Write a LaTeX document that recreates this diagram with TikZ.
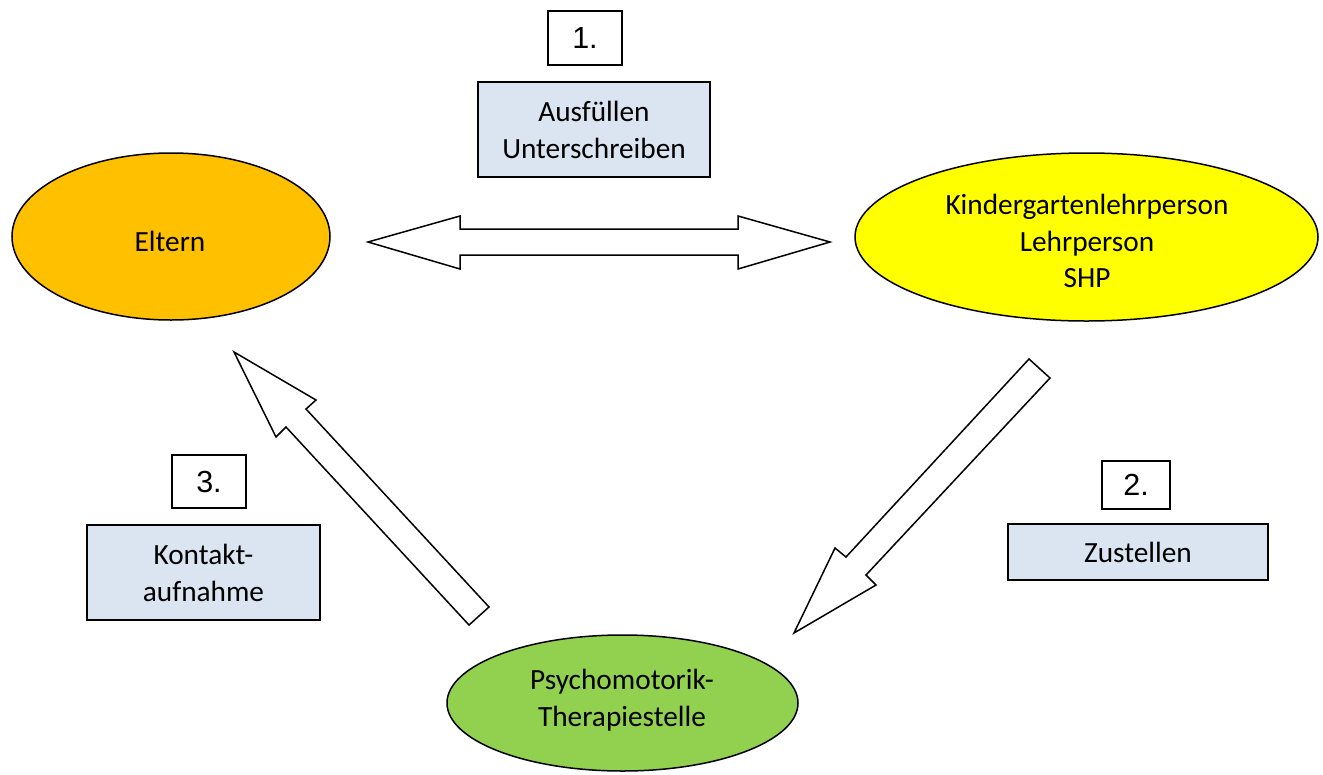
\documentclass[tikz,border=0pt]{standalone}
\usepackage{fontspec}
\setmainfont{Carlito}
\newfontfamily\arialfont{Liberation Sans}
\usetikzlibrary{shapes.geometric}
\definecolor{eltern}{HTML}{FFC000}
\definecolor{kiga}{HTML}{FFFF00}
\definecolor{psy}{HTML}{92D050}
\definecolor{labelbg}{HTML}{DBE5F1}
\tikzset{
  oval/.style={ellipse, draw=black, line width=1.5pt, inner sep=0pt, align=center},
  ovaltext/.style={align=center, inner sep=0pt, font=\fontsize{29.3}{36.5}\selectfont},
  numbox/.style={rectangle, draw=black, line width=1.6pt, fill=white, inner sep=0pt,
    font=\arialfont\fontsize{30.5}{34}\selectfont},
  labbox/.style={rectangle, draw=black, line width=2pt, fill=labelbg, inner sep=0pt, align=center,
    font=\fontsize{29.3}{37}\selectfont},
  blockarrow/.style={draw=black, line width=1.5pt, fill=white, line join=miter}
}
\begin{document}
\begin{tikzpicture}[x=1pt,y=-1pt]
\useasboundingbox (0,0) rectangle (1323,774);
% ellipses
\node[oval, fill=eltern, minimum width=318pt, minimum height=167pt] (eltern) at (171,236.5) {};
\node[ovaltext] (elterntext) at (170,241) {Eltern};
\node[oval, fill=kiga, minimum width=463pt, minimum height=168pt] (kiga) at (1086.5,237) {};
\node[ovaltext] (kigatext) at (1087,241) {Kindergartenlehrperson\\Lehrperson\\SHP};
\node[oval, fill=psy, minimum width=351pt, minimum height=136pt] (psy) at (622.5,703) {};
\node[ovaltext] (psytext) at (622,700) {Psychomotorik-\\Therapiestelle};
% label boxes
\node[numbox, minimum width=74pt, minimum height=54pt] (n1) at (585,38) {1.};
\node[labbox, minimum width=232pt, minimum height=95pt] (l1) at (594,129.5) {Ausfüllen\\Unterschreiben};
\node[numbox, minimum width=68pt, minimum height=48pt] (n2) at (1136,485) {2.};
\node[labbox, minimum width=260pt, minimum height=56pt] (l2) at (1138,552) {Zustellen};
\node[numbox, minimum width=74pt, minimum height=53pt] (n3) at (209,481.5) {3.};
\node[labbox, minimum width=233pt, minimum height=95pt] (l3) at (203.5,572.5) {Kontakt-\\aufnahme};
% block arrows
\draw[blockarrow] (368,242) -- (460,216) -- (460,229) -- (738,229) -- (738,216) -- (830,242)
  -- (738,269) -- (738,255) -- (460,255) -- (460,269) -- cycle;
\draw[blockarrow] (1029,359) -- (1050,378) -- (866,575) -- (876,585) -- (794,633)
  -- (835,548) -- (846,557) -- cycle;
\draw[blockarrow] (234,352) -- (316,400) -- (306,409) -- (489,607) -- (469,625)
  -- (286,427) -- (276,437) -- cycle;
\end{tikzpicture}
\end{document}
